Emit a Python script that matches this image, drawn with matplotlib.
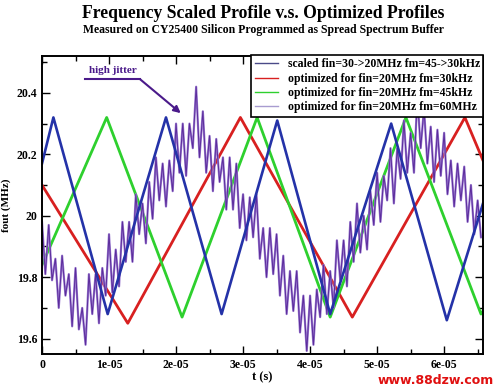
import numpy as np
import matplotlib
matplotlib.use("Agg")
import matplotlib.pyplot as plt
from matplotlib.lines import Line2D
from matplotlib.ticker import MultipleLocator, FuncFormatter

# === Data (time in units of 1e-5 s, frequency in MHz) ===
t_blue = [0, 0.17, 0.98, 1.85, 2.68, 3.51, 4.30, 5.21, 6.04, 6.58]
f_blue = [20.17, 20.32, 19.68, 20.32, 19.68, 20.31, 19.68, 20.30, 19.66, 20.04]

t_red = [0, 1.28, 2.96, 4.63, 6.31, 6.58]
f_red = [20.10, 19.65, 20.32, 19.67, 20.32, 20.18]

t_green = [0, 0.965, 2.09, 3.21, 4.30, 5.43, 6.55, 6.58]
f_green = [19.84, 20.32, 19.67, 20.32, 19.67, 20.32, 19.68, 19.69]

# high jitter profile, sampled every 0.05e-5 s
f_purple = [
    19.98, 19.81, 19.97, 19.79, 19.86, 19.70, 19.87, 19.74, 19.81, 19.64,
    19.83, 19.63, 19.70, 19.58, 19.81, 19.68, 19.81, 19.65, 19.83, 19.74,
    19.94, 19.75, 19.89, 19.77, 19.98, 19.85, 19.98, 19.85, 20.07, 19.94,
    20.04, 19.91, 20.11, 19.99, 20.19, 20.05, 20.17, 20.03, 20.18, 20.08,
    20.30, 20.14, 20.30, 20.13, 20.30, 20.22, 20.42, 20.19, 20.34, 20.14,
    20.26, 20.08, 20.25, 20.11, 20.19, 20.02, 20.19, 20.02, 20.17, 19.96,
    20.07, 19.92, 20.06, 19.93, 20.07, 19.86, 19.96, 19.80, 19.96, 19.81,
    19.94, 19.74, 19.87, 19.68, 19.82, 19.69, 19.82, 19.62, 19.74, 19.56,
    19.74, 19.58, 19.76, 19.67, 19.84, 19.68, 19.82, 19.70, 19.92, 19.79,
    19.92, 19.77, 19.98, 19.85, 20.04, 19.88, 20.00, 19.89, 20.08, 19.97,
    20.14, 19.98, 20.13, 20.05, 20.22, 20.04, 20.22, 20.12, 20.31, 20.14,
    20.27, 20.14, 20.39, 20.22, 20.35, 20.17, 20.29, 20.11, 20.28, 20.13,
    20.27, 20.07, 20.18, 20.03, 20.17, 20.05, 20.16, 19.98, 20.10, 19.94,
    20.05, 19.93,
]
t_purple = np.round(np.arange(len(f_purple)) * 0.05, 2)

labels = [
    "scaled fin=30->20MHz fm=45->30kHz",
    "optimized for fin=20MHz fm=30kHz",
    "optimized for fin=20MHz fm=45kHz",
    "optimized for fin=20MHz fm=60MHz",
]

SCALE = 1e-5
serif = "Liberation Serif"

fig = plt.figure(figsize=(5.0, 3.89), dpi=100)
ax = fig.add_axes([0.084, 0.09, 0.882, 0.766])

ax.plot(np.array(t_red) * SCALE, f_red, color="#d82020", lw=2.0)
ax.plot(np.array(t_green) * SCALE, f_green, color="#2ed02e", lw=2.0)
# jittery trace: light halo with a darker core
ax.plot(t_purple * SCALE, f_purple, color="#9a7ad0", lw=1.6)
ax.plot(t_purple * SCALE, f_purple, color="#5c2c9c", lw=0.7)
ax.plot(np.array(t_blue) * SCALE, f_blue, color="#2432a8", lw=1.9)

ax.set_xlim(0, 6.58e-5)
ax.set_ylim(19.55, 20.52)

ax.xaxis.set_major_locator(MultipleLocator(1e-5))
ax.xaxis.set_minor_locator(MultipleLocator(0.5e-5))
ax.yaxis.set_major_locator(MultipleLocator(0.2))
ax.yaxis.set_minor_locator(MultipleLocator(0.1))
ax.xaxis.set_major_formatter(FuncFormatter(lambda v, p: "0" if abs(v) < 1e-12 else f"{v:.0e}"))
ax.yaxis.set_major_formatter(FuncFormatter(lambda v, p: f"{v:g}"))

ax.tick_params(which="both", direction="in", top=True, right=True, width=1.0)
ax.tick_params(which="major", length=6)
ax.tick_params(which="minor", length=3.5)
for lab in ax.get_xticklabels() + ax.get_yticklabels():
    lab.set_fontfamily(serif)
    lab.set_fontweight("bold")
    lab.set_fontsize(8.5)
for s in ax.spines.values():
    s.set_linewidth(1.4)

ax.set_xlabel("t (s)", fontfamily=serif, fontweight="bold", fontsize=9, labelpad=0)
ax.set_ylabel("fout (MHz)", fontfamily=serif, fontweight="bold", fontsize=8, labelpad=4)

# === Titles ===
fig.text(0.527, 0.966, "Frequency Scaled Profile v.s. Optimized Profiles",
         ha="center", va="center", fontfamily=serif, fontweight="bold", fontsize=12.7)
fig.text(0.527, 0.924, "Measured on CY25400 Silicon Programmed as Spread Spectrum Buffer",
         ha="center", va="center", fontfamily=serif, fontweight="bold", fontsize=8.5)

# === Legend ===
handles = [
    Line2D([], [], color="#4a4a88", lw=1.0),
    Line2D([], [], color="#d82020", lw=1.0),
    Line2D([], [], color="#2ed02e", lw=1.0),
    Line2D([], [], color="#a89cd0", lw=1.0),
]
leg = fig.legend(handles, labels, loc="upper left", bbox_to_anchor=(0.502, 0.859),
                 prop={"family": serif, "weight": "bold", "size": 8.5},
                 frameon=True, fancybox=False, borderpad=0.3, labelspacing=0.2,
                 handlelength=2.0, handletextpad=0.8, borderaxespad=0)
leg.get_frame().set_edgecolor("black")
leg.get_frame().set_linewidth(1.2)
leg.get_frame().set_alpha(1)

# === Annotation ===
jit = "#4a1a8a"
ax.text(1.06e-5, 20.474, "high jitter", color=jit, ha="center", va="center",
        fontfamily=serif, fontweight="bold", fontsize=8)
ax.plot([0.64e-5, 1.46e-5], [20.445, 20.445], color=jit, lw=1.5)
ax.annotate("", xy=(2.07e-5, 20.334), xytext=(1.46e-5, 20.445),
            arrowprops=dict(arrowstyle="-|>", color=jit, lw=1.5, mutation_scale=10,
                            shrinkA=0, shrinkB=0))

# === Watermark ===
fig.text(0.988, 0.006, "www.88dzw.com", color="#e01010", ha="right", va="bottom",
         fontfamily="DejaVu Sans", fontweight="bold", fontsize=9)

fig.savefig("out.png", dpi=100)
